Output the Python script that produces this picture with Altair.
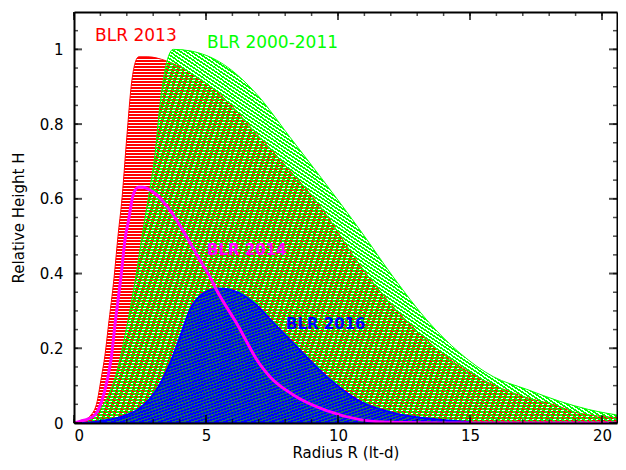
import altair as alt
import pandas as pd

# ---------------- data ----------------
red_r = [0, 0.3, 0.6, 0.85, 1.04, 1.17, 1.30, 1.52, 1.68, 1.80, 2.0, 2.18, 2.3, 2.45, 2.8,
         3.5, 4.39, 5.66, 6.92, 8.18, 9.44, 10.83, 12.09, 13.36, 14.62, 15.88, 17.15,
         18.4, 18.9, 20.87]
red_h = [0, 0.004, 0.018, 0.05, 0.124, 0.18, 0.258, 0.391, 0.51, 0.587, 0.765, 0.91, 0.96,
         0.98, 0.98, 0.969, 0.938, 0.871, 0.773, 0.676, 0.569, 0.422, 0.311, 0.222, 0.151,
         0.102, 0.068, 0.044, 0.03, 0.013]

green_r = [0, 0.3, 0.61, 1.11, 1.62, 2.0, 2.34, 2.6, 2.82, 3.07, 3.26, 3.51, 3.76, 4.39,
           5.66, 6.92, 8.18, 9.44, 10.9, 12.09, 13.36, 14.62, 15.88, 17.15, 18.4, 19.5, 20.87]
green_h = [0, 0.003, 0.013, 0.048, 0.137, 0.258, 0.391, 0.51, 0.604, 0.72, 0.853, 0.965,
           1.0, 0.996, 0.96, 0.88, 0.765, 0.649, 0.51, 0.391, 0.276, 0.187, 0.124, 0.09,
           0.058, 0.036, 0.018]

mag_r = [0, 0.25, 0.5, 0.8, 1.14, 1.40, 1.58, 1.76, 1.95, 2.06, 2.25, 2.44, 2.6, 3.0, 3.64,
         4.27, 4.77, 5.15, 5.4, 6.16, 7.05, 7.42, 8.31, 9.57, 10.83, 12.0, 14.0, 20.87]
mag_h = [0, 0.005, 0.01, 0.022, 0.08, 0.169, 0.28, 0.38, 0.5, 0.54, 0.613, 0.631, 0.631,
         0.618, 0.569, 0.498, 0.436, 0.391, 0.356, 0.267, 0.156, 0.124, 0.075, 0.033,
         0.009, 0.002, 0, 0]

blue_r = [0, 0.5, 0.98, 1.87, 2.5, 3.13, 3.64, 4.02, 4.39, 4.9, 5.53, 6.16, 6.92, 7.42,
          8.31, 9.57, 10.83, 12.09, 13.86, 15.0]
blue_h = [0, 0.001, 0.005, 0.018, 0.04, 0.089, 0.16, 0.231, 0.302, 0.347, 0.36, 0.351,
          0.315, 0.278, 0.213, 0.124, 0.058, 0.027, 0.009, 0.003]

label_text = ["BLR 2013", "BLR 2000-2011", "BLR 2014", "BLR 2016"]
label_r = [0.8, 5.04, 5.04, 8.03]
label_h = [1.035, 1.017, 0.463, 0.264]
label_col = ["#ff0000", "#00ff00", "#ff00ff", "#0000ff"]
label_bold = [False, False, True, True]

x_major = [0, 5, 10, 15, 20]
x_minor = list(range(0, 21))
y_major = [0, 0.2, 0.4, 0.6, 0.8, 1.0]
y_minor = [round(0.05 * i, 2) for i in range(0, 22)]

# ---------------- layout ----------------
W, H = 543, 411
PXX = 26.4                      # pixels per unit of R in the reference
X_MAX, Y_MAX = W / PXX, 1.1
PXY = H / Y_MAX
FONT = "DejaVu Sans"
CLEAR = "rgba(255,255,255,0)"

xs = alt.Scale(domain=[0, X_MAX], nice=False, zero=False)
ys = alt.Scale(domain=[0, Y_MAX], nice=False)


def stripes(color, period_px, duty, bw, bh, kind):
    """Hatching as a striped linear gradient in bounding-box units."""
    if kind == "h":
        x1, y1, x2, y2 = 0, 0, 0, 1
        span = bh
    else:
        if kind == "/":
            x1, y1, x2, y2 = 0, 0, 1, 1
        else:
            x1, y1, x2, y2 = 0, 1, 1, 0
        span = 1.0 / (0.5 * ((1 / bw) ** 2 + (1 / bh) ** 2) ** 0.5)
    n = max(1, int(round(span / period_px)))
    stops = []
    for i in range(n):
        a, b, c = i / n, (i + duty) / n, (i + 1) / n
        stops += [alt.GradientStop(color=color, offset=a),
                  alt.GradientStop(color=color, offset=b),
                  alt.GradientStop(color=CLEAR, offset=b),
                  alt.GradientStop(color=CLEAR, offset=c)]
    return alt.LinearGradient(gradient="linear", stops=stops, x1=x1, y1=y1, x2=x2, y2=y2)


red_df = pd.DataFrame({"r": red_r, "h": red_h})
green_df = pd.DataFrame({"r": green_r, "h": green_h})
mag_df = pd.DataFrame({"r": mag_r, "h": mag_h})
blue_df = pd.DataFrame({"r": blue_r, "h": blue_h})
lab_df = pd.DataFrame({"t": label_text, "r": label_r, "h": label_h, "c": label_col,
                       "b": label_bold})

x_lab_axis = alt.Axis(orient="bottom", values=x_major, format="d", ticks=False, tickSize=0,
                      labelPadding=5, labelFont=FONT, labelFontSize=15, labelColor="black",
                      domain=True, domainColor="black", domainWidth=2, grid=False,
                      title="Radius R (lt-d)", titleFont=FONT, titleFontSize=15,
                      titleFontWeight="normal", titleColor="black", titlePadding=2, zindex=2)
y_lab_axis = alt.Axis(orient="left", values=y_major, format="~g", ticks=False, tickSize=0,
                      labelPadding=11, labelFont=FONT, labelFontSize=15, labelColor="black",
                      domain=True, domainColor="black", domainWidth=2, grid=False,
                      title="Relative Height H", titleFont=FONT, titleFontSize=15,
                      titleFontWeight="normal", titleColor="black", titlePadding=13, zindex=2)
x_top_axis = alt.Axis(orient="bottom", offset=-H, values=x_major, ticks=False, tickSize=0,
                      labels=False, domain=True, domainColor="black", domainWidth=2,
                      grid=False, title=None, zindex=2)
y_right_axis = alt.Axis(orient="left", offset=-W, values=y_major, ticks=False, tickSize=0,
                        labels=False, domain=True, domainColor="black", domainWidth=2,
                        grid=False, title=None, zindex=2)

red_bw, red_bh = max(red_r) * PXX, max(red_h) * PXY
green_bw, green_bh = max(green_r) * PXX, max(green_h) * PXY
blue_bw, blue_bh = max(blue_r) * PXX, max(blue_h) * PXY

X = alt.X("r:Q", scale=xs, axis=None)
Y = alt.Y("h:Q", scale=ys, axis=None)

red_area = alt.Chart(red_df).mark_area(
    interpolate="monotone", fill=stripes("#ff0000", 3, 0.6, red_bw, red_bh, "h"),
    stroke="#ff0000", strokeWidth=1, clip=True
).encode(
    x=alt.X("r:Q", scale=xs, axis=x_lab_axis),
    y=alt.Y("h:Q", scale=ys, axis=y_lab_axis),
)

green_area = alt.Chart(green_df).mark_area(
    interpolate="monotone", fill=stripes("#00ff00", 3, 0.55, green_bw, green_bh, "\\"),
    stroke="#00ff00", strokeWidth=1, clip=True
).encode(
    x=alt.X("r:Q", scale=xs, axis=x_top_axis),
    y=alt.Y("h:Q", scale=ys, axis=y_right_axis),
)

blue_under = alt.Chart(blue_df).mark_area(
    interpolate="monotone", fill="#1f6a6a", clip=True
).encode(x=X, y=Y)

blue_area = alt.Chart(blue_df).mark_area(
    interpolate="monotone", fill=stripes("#0000ff", 3, 0.55, blue_bw, blue_bh, "/"),
    stroke="#0000ff", strokeWidth=2, clip=True
).encode(x=X, y=Y)

mag_line = alt.Chart(mag_df).mark_line(
    interpolate="monotone", color="#ff00ff", strokeWidth=3, clip=True
).encode(x=X, y=Y)

text_norm = alt.Chart(lab_df).transform_filter("!datum.b").mark_text(
    align="left", baseline="middle", font=FONT, fontSize=17
).encode(x=X, y=Y, text="t:N", color=alt.Color("c:N", scale=None))

text_bold = alt.Chart(lab_df).transform_filter("datum.b").mark_text(
    align="left", baseline="middle", font=FONT, fontSize=15, fontWeight="bold"
).encode(x=X, y=Y, text="t:N", color=alt.Color("c:N", scale=None))

# inward tick marks on all four sides
xmaj_df = pd.DataFrame({"r": x_major})
xmin_df = pd.DataFrame({"r": x_minor})
ymaj_df = pd.DataFrame({"h": y_major})
ymin_df = pd.DataFrame({"h": y_minor})

ticks = [
    alt.Chart(xmaj_df).mark_tick(color="black", thickness=2, size=8).encode(x=X, y=alt.value(H - 4)),
    alt.Chart(xmaj_df).mark_tick(color="black", thickness=2, size=8).encode(x=X, y=alt.value(4)),
    alt.Chart(xmin_df).mark_tick(color="black", thickness=1.5, size=4).encode(x=X, y=alt.value(H - 2)),
    alt.Chart(xmin_df).mark_tick(color="black", thickness=1.5, size=4).encode(x=X, y=alt.value(2)),
    alt.Chart(ymaj_df).mark_tick(color="black", thickness=2, size=8).encode(y=Y, x=alt.value(4)),
    alt.Chart(ymaj_df).mark_tick(color="black", thickness=2, size=8).encode(y=Y, x=alt.value(W - 4)),
    alt.Chart(ymin_df).mark_tick(color="black", thickness=1.5, size=4).encode(y=Y, x=alt.value(2)),
    alt.Chart(ymin_df).mark_tick(color="black", thickness=1.5, size=4).encode(y=Y, x=alt.value(W - 2)),
]

chart = alt.layer(
    red_area, green_area, blue_under, blue_area, mag_line, text_norm, text_bold, *ticks
).resolve_axis(
    x="independent", y="independent"
).properties(
    width=W, height=H,
    padding={"left": 66, "top": 4, "right": 1, "bottom": 39},
    autosize=alt.AutoSizeParams(type="none"),
    background="white",
).configure_view(stroke=None)

chart.save("out.html", embed_options={"renderer": "svg", "actions": False})
